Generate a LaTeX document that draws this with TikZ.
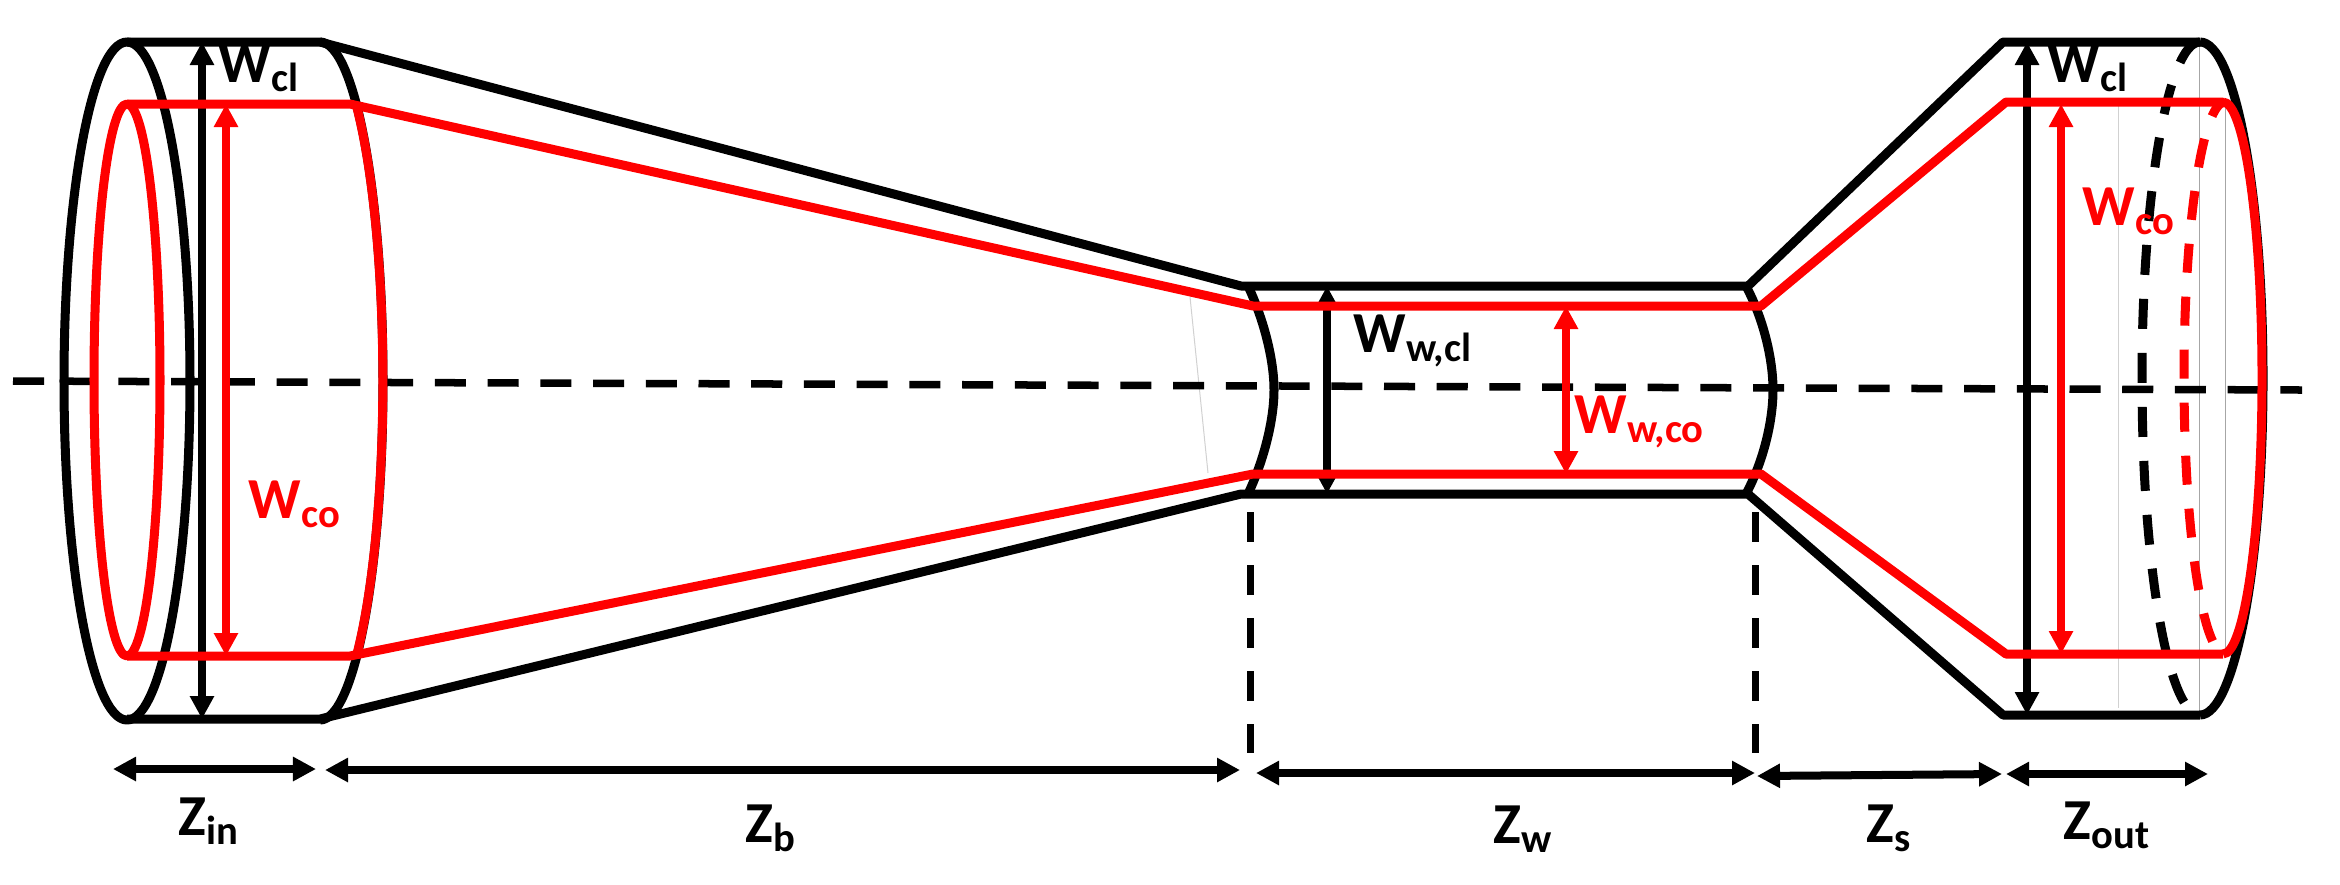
\documentclass[tikz,border=0pt]{standalone}
\usepackage{fontspec}
\setmainfont{Carlito}
\usetikzlibrary{arrows.meta}
\tikzset{
  wall/.style={line width=0.9mm, black, line join=round},
  core/.style={line width=0.9mm, red, line join=round},
  axisline/.style={line width=0.75mm, black, dash pattern=on 3.1mm off 2.17mm},
  stopline/.style={line width=0.7mm, black, dash pattern=on 3mm off 2.3mm},
  faint/.style={line width=0.1mm, black!18},
  dim/.style={<->, >={Triangle[length=2.3mm,width=2.3mm]}, line width=0.8mm, black},
  dimred/.style={dim, red},
  lab/.style={anchor=base west, inner sep=0pt, font=\fontsize{16.5}{18}\selectfont\bfseries},
  labred/.style={lab, text=red}
}

\begin{document}
\begin{tikzpicture}[x=0.01cm, y=-0.01cm]
\useasboundingbox (0,0) rectangle (2340,884);
% faint lines
\draw[faint] (1190,297) -- (1208,473);
\draw[faint] (2118,102) -- (2118,708);
\draw[faint, black!35] (2199,42) -- (2199,715);
\draw[faint, black!35] (2225,102) -- (2225,654);

% centre line
\coordinate (axisL) at (13,381);
\coordinate (axisR) at (2302,390);
\draw[axisline] (axisL) -- (axisR);

% outer wall
\draw[wall] (127,381) ellipse [x radius=63, y radius=339];
\draw[wall] (320,42) arc[start angle=-90, end angle=90, x radius=63, y radius=339];
\draw[wall] (127,42) -- (320,42) -- (1241,286) -- (1748,286) -- (2003,42) -- (2200,42);
\draw[wall] (127,719) -- (320,719) -- (1241,494) -- (1748,494) -- (2003,715) -- (2200,715);
\draw[wall] (1248,286) .. controls (1264,320) and (1274,360) .. (1274,390) .. controls (1274,420) and (1264,460) .. (1248,494);
\draw[wall] (1746,286) .. controls (1764,320) and (1773,360) .. (1773,390) .. controls (1773,420) and (1764,460) .. (1746,494);
\draw[wall] (2200,42) arc[start angle=-90, end angle=90, x radius=63, y radius=336.5];
\draw[wall, dash pattern=on 3mm off 2.4mm] (2200,42) arc[start angle=-90, end angle=-270, x radius=58, y radius=336.5];

% black heights, under the core
\draw[dim] (202,42) -- (202,719);
\draw[dim] (1327,286) -- (1327,494);
\draw[dim] (2027,42) -- (2027,715);

% inner core
\draw[core] (127,380) ellipse [x radius=33, y radius=276];
\draw[core] (356,104) arc[start angle=-55, end angle=55, x radius=63, y radius=338];
\draw[core] (127,104) -- (350,104) -- (1253,306) -- (1761,306) -- (2006,102) -- (2223,102);
\draw[core] (127,656) -- (350,656) -- (1253,474) -- (1761,474) -- (2006,654) -- (2223,654);
\draw[core] (2223,102) arc[start angle=-90, end angle=90, x radius=39, y radius=276];
\draw[core, dash pattern=on 2.9mm off 2.4mm, dash phase=0.9mm] (2225,102) arc[start angle=-90, end angle=-270, x radius=41, y radius=276];

% section ends
\coordinate (stopA) at (1250,512);
\coordinate (stopAb) at (1250,753);
\coordinate (stopB) at (1755,512);
\coordinate (stopBb) at (1755,753);
\draw[stopline] (stopA) -- (stopAb);
\draw[stopline] (stopB) -- (stopBb);

% red heights
\draw[dimred] (226,104) -- (226,656);
\draw[dimred] (1566,306) -- (1566,474);
\draw[dimred] (2061,104) -- (2061,654);

% lengths
\draw[dim] (113,769) -- (316,769);
\draw[dim] (325,770) -- (1240,770);
\draw[dim] (1256,773) -- (1755,773);
\draw[dim] (1757,776) -- (2002,774);
\draw[dim] (2006,774) -- (2208,774);

% labels
\node[lab] (wclL) at (218,82) {W\textsubscript{cl}};
\node[labred] (wcoL) at (248,518) {W\textsubscript{co}};
\node[lab] (wclR) at (2047,82) {W\textsubscript{cl}};
\node[labred] (wcoR) at (2082,225) {W\textsubscript{co}};
\node[lab] (wwcl) at (1353,352) {W\textsubscript{w,cl}};
\node[labred] (wwco) at (1574,433) {W\textsubscript{w,co}};
\node[lab] (zin) at (178,835) {Z\textsubscript{in}};
\node[lab] (zb) at (745,842) {Z\textsubscript{b}};
\node[lab] (zw) at (1493,843) {Z\textsubscript{w}};
\node[lab] (zs) at (1866,842) {Z\textsubscript{s}};
\node[lab] (zout) at (2063,839) {Z\textsubscript{out}};
\end{tikzpicture}
\end{document}
